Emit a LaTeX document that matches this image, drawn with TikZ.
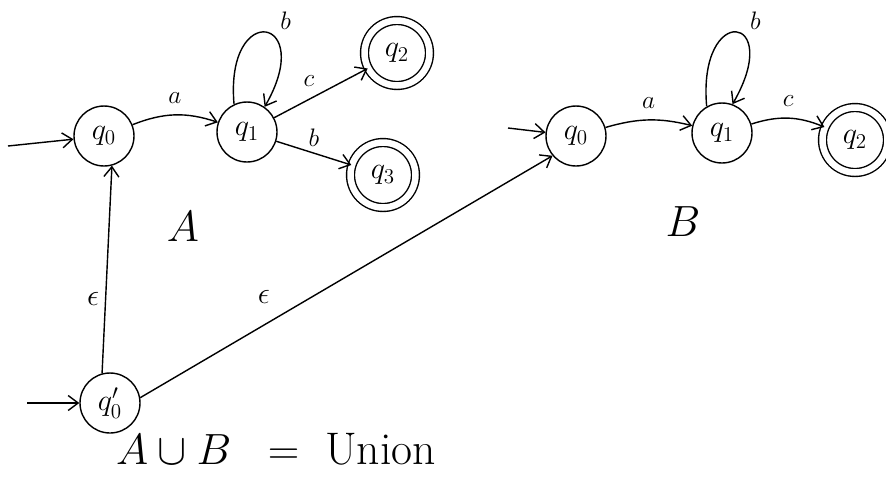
\documentclass[tikz,border=0pt]{standalone}
\usepackage{amsmath,amssymb}
\usepackage{tikz}
\usetikzlibrary{arrows.meta,positioning}

\begin{document}
\begin{tikzpicture}[x=0.02cm, y=-0.02cm,
  state/.style={draw, circle, line width=0.8pt, minimum size=1.2cm, inner sep=0pt, font=\LARGE},
  accept/.style={state, minimum size=1.3cm, double, double distance=0.13cm},
  trans/.style={-{Straight Barb[length=2mm,width=3mm]}, line width=0.8pt},
  lbl/.style={font=\Large},
  eps/.style={font=\LARGE},
  big/.style={font=\fontsize{28}{30}\selectfont}]
  \useasboundingbox (0,0) rectangle (886,478);

  %% Automaton A
  \node[state] (q0A) at (104,136) {$q_0$};
  \node[state] (q1A) at (247,132) {$q_1$};
  \node[accept] (q2A) at (397,53) {$q_2$};
  \node[accept] (q3A) at (383,175) {$q_3$};
  \coordinate (inA) at (8,146);
  \draw[trans] (inA) -- (q0A);
  \draw[trans] (q0A) to[bend left=20] node[lbl, above=1mm] {$a$} (q1A);
  \draw[trans] (q1A.115) to[out=95, in=60, distance=2.1cm] node[lbl, above right, pos=0.6] {$b$} (q1A.55);
  \draw[trans] (q1A) -- node[lbl, above left] {$c$} (q2A);
  \draw[trans] (q1A) -- node[lbl, above] {$b$} (q3A);
  \node[big] (labA) at (183,227) {$A$};

  %% Automaton B
  \node[state] (q0B) at (576,136) {$q_0$};
  \node[state] (q1B) at (722,133) {$q_1$};
  \node[accept] (q2B) at (855,140) {$q_2$};
  \coordinate (inB) at (508,128);
  \draw[trans] (inB) -- (q0B);
  \draw[trans] (q0B) to[bend left=15] node[lbl, above=1mm] {$a$} (q1B);
  \draw[trans] (q1B.120) to[out=95, in=60, distance=2.1cm] node[lbl, above right, pos=0.6] {$b$} (q1B.70);
  \draw[trans] (q1B) to[bend left=20] node[lbl, above=1mm] {$c$} (q2B);
  \node[big] (labB) at (683,222) {$B$};

  %% New start state for the union
  \node[state] (q0p) at (110,403) {$q'_0$};
  \coordinate (inU) at (27,403);
  \draw[trans] (inU) -- (q0p);
  \draw[trans] (q0p.105) -- node[eps, left, pos=0.36] {$\epsilon$} (q0A.-75);
  \draw[trans] (q0p.10) -- node[eps, above=3mm, pos=0.3] {$\epsilon$} (q0B.220);
  \node[font=\fontsize{26}{28}\selectfont, inner sep=0pt, anchor=base] (union) at (276,464) {$A \cup B\;\;=\;$ Union};
\end{tikzpicture}
\end{document}
